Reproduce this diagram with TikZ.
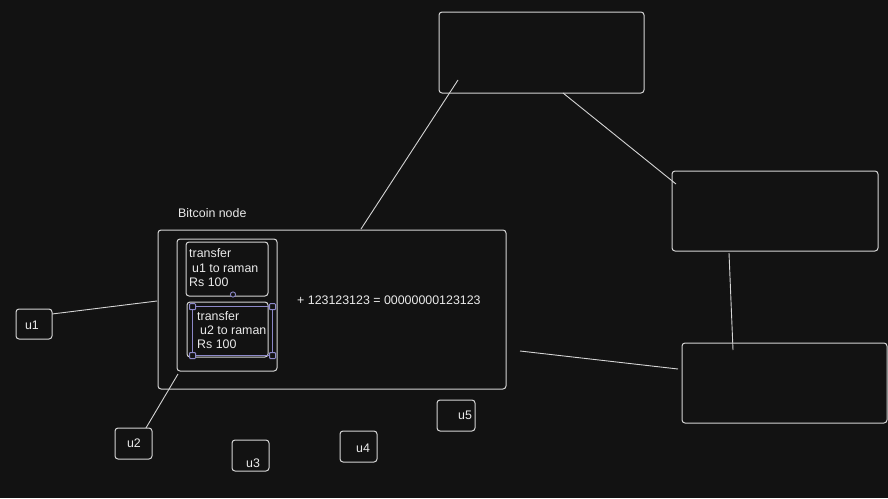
\documentclass[tikz,border=0pt]{standalone}
\usepackage{fontspec}
\setmainfont{Liberation Sans}
\definecolor{bgc}{HTML}{121212}
\definecolor{linec}{HTML}{D4D4D4}
\definecolor{textc}{HTML}{EAEAEA}
\definecolor{selc}{HTML}{8C88C8}
\tikzset{
  box/.style={draw=linec, line width=1pt, rounded corners=3pt, inner sep=0pt, fill=bgc},
  conn/.style={draw=linec, line width=0.9pt},
  txt/.style={text=textc, font=\fontsize{12.4}{14}\selectfont, inner sep=0pt},
  handle/.style={draw=selc, line width=1pt, fill=bgc, rounded corners=0.8pt, minimum size=6pt, inner sep=0pt},
}
\begin{document}
\begin{tikzpicture}[x=1pt,y=-1pt]
\fill[bgc] (0,0) rectangle (888,498);
\useasboundingbox (0,0) rectangle (888,498);

% connector end points
\coordinate (a1) at (458,80);
\coordinate (a2) at (361,229);
\coordinate (b1) at (563,93);
\coordinate (b2) at (676,184);
\coordinate (c1) at (729,253);
\coordinate (c2) at (733,350);
\coordinate (d1) at (520,351);
\coordinate (d2) at (678,369);
\coordinate (e1) at (52,314);
\coordinate (e2) at (157,301);
\coordinate (f1) at (143,433);
\coordinate (f2) at (178,374);

% boxes
\node[box, minimum width=205pt, minimum height=81pt] (top) at (541.5,52.5) {};
\node[box, minimum width=206pt, minimum height=80pt] (ra) at (775,211) {};
\node[box, minimum width=205pt, minimum height=80pt] (rb) at (784.5,383) {};
\node[box, minimum width=348pt, minimum height=159pt] (btc) at (332,309.5) {};
\node[box, minimum width=100pt, minimum height=132pt] (cont) at (227,305) {};
\node[box, minimum width=82pt, minimum height=54pt] (t1) at (227,269) {};
\node[box, minimum width=81pt, minimum height=55pt] (t2) at (227.5,329.5) {};

% connectors
\draw[conn] (a1) -- (a2);
\draw[conn] (b1) -- (b2);
\draw[conn] (c1) -- (c2);
\draw[conn] (d1) -- (d2);
\draw[conn] (e1) -- (e2);
\draw[conn] (f1) -- (f2);

% label
\node[txt, anchor=west] (lbl) at (178,213) {Bitcoin node};

% transaction 1
\node[txt, anchor=west] (t1a) at (189,253) {transfer};
\node[txt, anchor=west] (t1b) at (192,268) {u1 to raman};
\node[txt, anchor=west] (t1c) at (189,282) {Rs 100};
\draw[draw=selc, line width=0.9pt, fill=bgc] (233,294.5) circle (2.6pt);

% transaction 2
\node[txt, anchor=west] (t2a) at (197,316.5) {transfer};
\node[txt, anchor=west] (t2b) at (200,330.5) {u2 to raman};
\node[txt, anchor=west] (t2c) at (197,344.5) {Rs 100};
\draw[draw=selc, line width=1pt] (192.5,306.7) rectangle (272.5,355.5);
\node[handle] (h1) at (192.5,306.7) {};
\node[handle] (h2) at (272.5,306.7) {};
\node[handle] (h3) at (192.5,355.5) {};
\node[handle] (h4) at (272.5,355.5) {};

% formula
\node[txt, anchor=west] (form) at (297,300) {+ 123123123 = 00000000123123};

% users
\node[box, minimum width=36pt, minimum height=30pt] (u1) at (34,324) {};
\node[txt] at (32,325) {u1};
\node[box, minimum width=37pt, minimum height=31pt] (u2) at (133.5,443.5) {};
\node[txt] at (134,443) {u2};
\node[box, minimum width=37pt, minimum height=31pt] (u3) at (250.5,455.5) {};
\node[txt] at (253,463) {u3};
\node[box, minimum width=37pt, minimum height=31pt] (u4) at (358.5,446.5) {};
\node[txt] at (363,448) {u4};
\node[box, minimum width=38pt, minimum height=31pt] (u5) at (456,415.5) {};
\node[txt] at (465,415) {u5};
\end{tikzpicture}
\end{document}
